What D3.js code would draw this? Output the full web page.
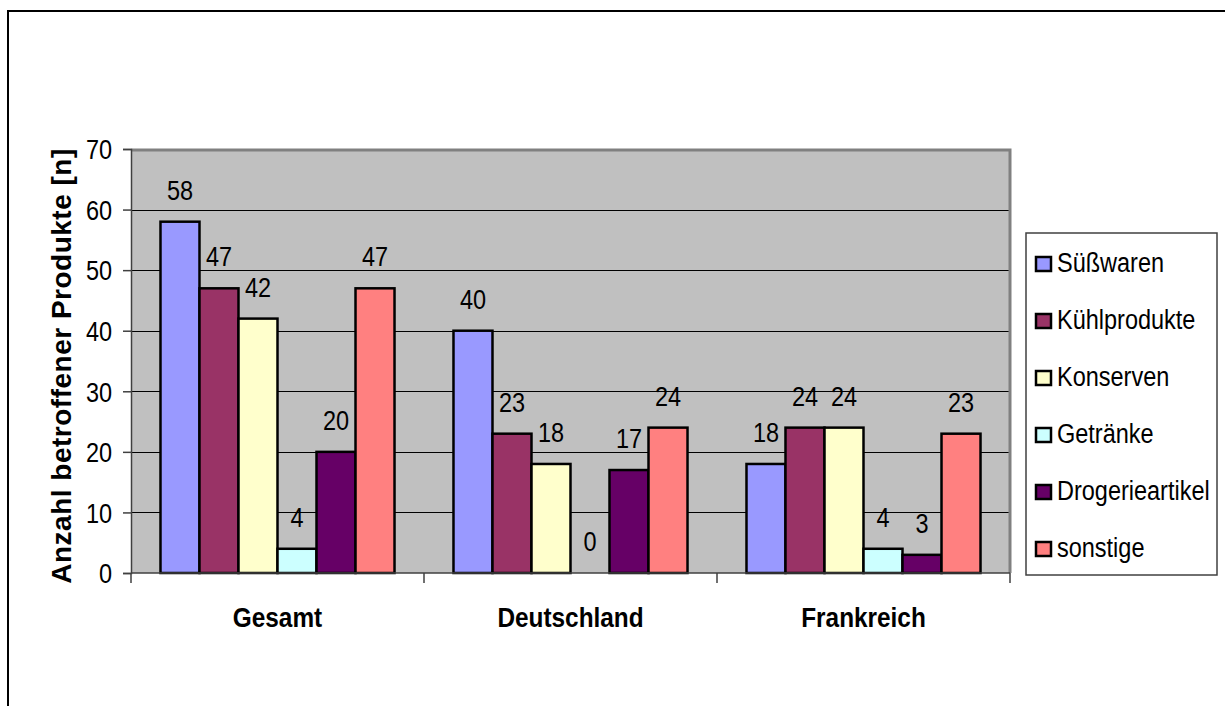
<!DOCTYPE html>
<html>
<head>
<meta charset="utf-8">
<script src="https://cdn.jsdelivr.net/npm/d3@7"></script>
<style>
  body { margin: 0; background: #fff; }
  text { font-family: "Liberation Sans", Arial, sans-serif; fill: #000; }
</style>
</head>
<body>
<svg id="chart" width="1225" height="706"></svg>
<script>
// data
let categories = ["Gesamt", "Deutschland", "Frankreich"]
let series = ["Süßwaren", "Kühlprodukte", "Konserven", "Getränke", "Drogerieartikel", "sonstige"]
let colors = ["#9999FF", "#993366", "#FFFFCC", "#CCFFFF", "#660066", "#FF8080"]
let values = [
  [58, 40, 18],  // Süßwaren
  [47, 23, 24],  // Kühlprodukte
  [42, 18, 24],  // Konserven
  [4, 0, 4],     // Getränke
  [20, 17, 3],   // Drogerieartikel
  [47, 24, 23]   // sonstige
]
let yTicks = [0, 10, 20, 30, 40, 50, 60, 70]
let yTitle = "Anzahl betroffener Produkte [n]"

let svg = d3.select("#chart")

let plotLeft = 131, plotRight = 1010, plotTop = 149, plotBottom = 573
let sx = 0.87 // text looks squeezed sideways in the original

// outer frame (runs off the page at right and bottom)
svg.append("path")
  .attr("d", "M8,706 L8,11 L1225,11")
  .attr("fill", "none")
  .attr("stroke", "#000")
  .attr("stroke-width", 2)

let xScale = d3.scaleBand().domain(categories).range([plotLeft, plotRight])
let inner = d3.scaleBand().domain(series).range([0, xScale.bandwidth()])
  .paddingInner(0).paddingOuter(0.756)
let yScale = d3.scaleLinear().domain([0, 70]).range([plotBottom, plotTop])

// plot background
svg.append("rect")
  .attr("x", plotLeft).attr("y", plotTop)
  .attr("width", plotRight - plotLeft).attr("height", plotBottom - plotTop)
  .attr("fill", "#C0C0C0")

// grid
svg.append("g").selectAll("line")
  .data(yTicks.filter(d => d > 0 && d < 70))
  .join("line")
  .attr("x1", plotLeft).attr("x2", plotRight)
  .attr("y1", d => Math.round(yScale(d)) + 0.5)
  .attr("y2", d => Math.round(yScale(d)) + 0.5)
  .attr("stroke", "#000")
  .attr("stroke-width", 1)

// gray border top / right
svg.append("path")
  .attr("d", `M${plotLeft},${plotTop + 1} L${plotRight},${plotTop + 1} L${plotRight},${plotBottom}`)
  .attr("fill", "none")
  .attr("stroke", "#808080")
  .attr("stroke-width", 3)

function squeezed(sel, x, y) {
  return sel.attr("x", 0).attr("y", 0)
    .attr("transform", `translate(${x},${y}) scale(${sx},1)`)
}

// bars
let rows = []
series.forEach((s, i) => {
  categories.forEach((c, j) => {
    rows.push({ s: s, c: c, v: values[i][j], color: colors[i] })
  })
})

svg.append("g").selectAll("rect")
  .data(rows)
  .join("rect")
  .attr("x", d => xScale(d.c) + inner(d.s))
  .attr("y", d => yScale(d.v))
  .attr("width", inner.bandwidth())
  .attr("height", d => yScale(0) - yScale(d.v))
  .attr("fill", d => d.color)
  .attr("stroke", "#000")
  .attr("stroke-width", 2.5)

// value labels
svg.append("g").selectAll("text")
  .data(rows)
  .join("text")
  .attr("text-anchor", "middle")
  .style("font-size", "27px")
  .text(d => d.v)
  .each(function (d) {
    squeezed(d3.select(this), xScale(d.c) + inner(d.s) + inner.bandwidth() / 2, yScale(d.v) - 22)
  })

// y axis
let yAxis = d3.axisLeft(yScale).tickValues(yTicks).tickSize(8).tickPadding(11)
let yAxisGroup = svg.append("g")
  .attr("transform", `translate(${plotLeft},0)`)
  .call(yAxis)
yAxisGroup.select(".domain").attr("stroke", "#404040").attr("stroke-width", 1.5)
yAxisGroup.selectAll(".tick line").attr("stroke", "#404040").attr("stroke-width", 1.5)
yAxisGroup.selectAll(".tick text")
  .style("font-family", "'Liberation Sans', Arial, sans-serif")
  .style("font-size", "27px")
  .attr("fill", "#000")
  .attr("dy", "0.36em")
  .attr("transform", function () {
    return `translate(-19,0) scale(${sx},1) translate(19,0)`
  })

// x axis
let xAxisGroup = svg.append("g")
  .attr("transform", `translate(0,${plotBottom})`)
xAxisGroup.append("line")
  .attr("x1", plotLeft).attr("x2", plotRight)
  .attr("stroke", "#404040").attr("stroke-width", 1.5)
xAxisGroup.selectAll(".tk")
  .data([plotLeft].concat(categories.map(c => xScale(c) + xScale.bandwidth())))
  .join("line")
  .attr("class", "tk")
  .attr("x1", d => d).attr("x2", d => d)
  .attr("y1", 0).attr("y2", 10)
  .attr("stroke", "#404040").attr("stroke-width", 1.5)

svg.append("g").selectAll("text")
  .data(categories)
  .join("text")
  .attr("text-anchor", "middle")
  .style("font-size", "28px")
  .style("font-weight", "bold")
  .text(d => d)
  .each(function (d) {
    squeezed(d3.select(this), xScale(d) + xScale.bandwidth() / 2, 627)
  })

// y title
svg.append("text")
  .attr("transform", "translate(71,366) rotate(-90)")
  .attr("text-anchor", "middle")
  .style("font-size", "28px")
  .style("font-weight", "bold")
  .style("letter-spacing", "0.5px")
  .text(yTitle)

// legend
let legend = svg.append("g")
legend.append("rect")
  .attr("x", 1026).attr("y", 233)
  .attr("width", 191).attr("height", 342)
  .attr("fill", "#fff")
  .attr("stroke", "#404040")
  .attr("stroke-width", 1.5)

let item = legend.selectAll(".item")
  .data(series)
  .join("g")
  .attr("class", "item")
  .attr("transform", (d, i) => `translate(0,${264 + i * 57})`)

item.append("rect")
  .attr("x", 1036).attr("y", -7)
  .attr("width", 15).attr("height", 14)
  .attr("fill", (d, i) => colors[i])
  .attr("stroke", "#000")
  .attr("stroke-width", 2.5)

item.append("text")
  .style("font-size", "27px")
  .text(d => d)
  .each(function () {
    squeezed(d3.select(this), 1057, 8)
  })
</script>
</body>
</html>
